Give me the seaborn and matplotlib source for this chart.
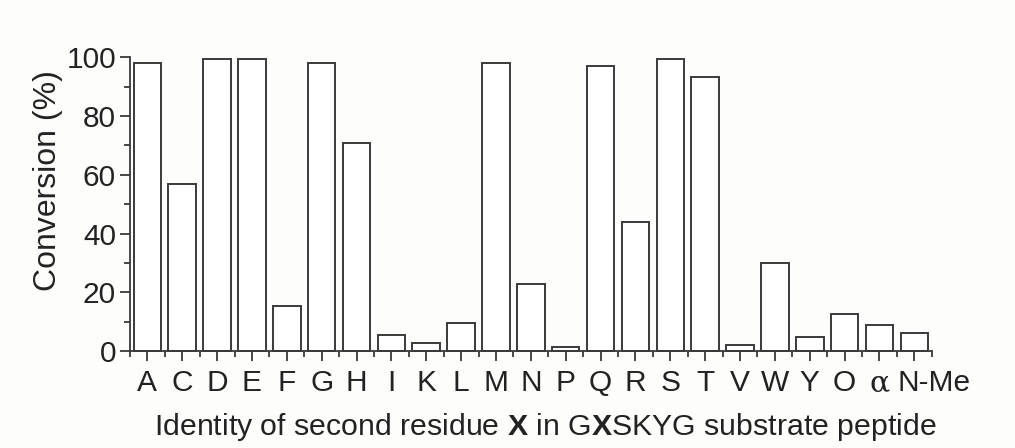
import matplotlib
matplotlib.use("Agg")
import matplotlib.pyplot as plt
import matplotlib.transforms as mtransforms
import seaborn as sns
import pandas as pd
import numpy as np
from matplotlib.ticker import MultipleLocator, FixedLocator

residues = ["A", "C", "D", "E", "F", "G", "H", "I", "K", "L", "M", "N", "P",
            "Q", "R", "S", "T", "V", "W", "Y", "O", "α", "N-Me"]
conversion = [98.1, 57.0, 99.3, 99.3, 15.3, 98.1, 71.0, 5.6, 2.7, 9.4, 98.1, 22.7, 1.2,
              97.2, 44.1, 99.4, 93.2, 2.2, 30.0, 4.7, 12.5, 8.9, 6.1]

df = pd.DataFrame({"residue": residues, "conversion": conversion})

sns.set_style("ticks")
plt.rcParams["font.family"] = ["Liberation Sans", "DejaVu Sans"]
plt.rcParams["mathtext.fontset"] = "custom"
plt.rcParams["mathtext.rm"] = "Liberation Sans"
plt.rcParams["mathtext.bf"] = "Liberation Sans:bold"

fig = plt.figure(figsize=(10.15, 4.48), dpi=100, facecolor="#fdfdfb")
ax = fig.add_axes([0.128, 0.2165, 0.79, 0.6555])
ax.set_facecolor("#fdfdfb")

sns.barplot(data=df, x="residue", y="conversion", ax=ax, color="white",
            edgecolor="#3a3a3a", linewidth=1.4, width=0.79, saturation=1)

n = len(residues)
ax.set_xlim(-0.5, n - 0.5)
ax.set_ylim(0, 100)
ax.yaxis.set_major_locator(MultipleLocator(20))
ax.yaxis.set_minor_locator(MultipleLocator(10))
ax.xaxis.set_minor_locator(FixedLocator(np.arange(-0.5, n, 1.0)))

for s in ["top", "right"]:
    ax.spines[s].set_visible(False)
for s in ["left", "bottom"]:
    ax.spines[s].set_color("#3a3a3a")
    ax.spines[s].set_linewidth(1.3)

ax.tick_params(axis="both", which="major", length=7, width=1.3, color="#3a3a3a",
               labelsize=21.5, labelcolor="#222222")
ax.tick_params(axis="both", which="minor", length=4, width=1.3, color="#3a3a3a")
ax.tick_params(axis="x", which="major", pad=6)
ax.tick_params(axis="y", which="major", pad=3)

labels = ax.get_xticklabels()
labels[-2].set_family(["DejaVu Serif"])
labels[-1].set_transform(labels[-1].get_transform() +
                         mtransforms.ScaledTranslation(20 / 100, 0, fig.dpi_scale_trans))

for p in ax.patches:
    p.set_clip_on(False)

ax.set_ylabel("Conversion (%)", fontsize=23, color="#222222")
ax.yaxis.set_label_coords(-0.083, 0.58)
ax.set_xlabel(r"Identity of second residue $\mathbf{X}$ in G$\mathbf{X}$SKYG substrate peptide",
              fontsize=21.8, color="#222222")
ax.xaxis.set_label_coords(0.5175, -0.205)

fig.savefig("out.png", dpi=100, facecolor=fig.get_facecolor())
